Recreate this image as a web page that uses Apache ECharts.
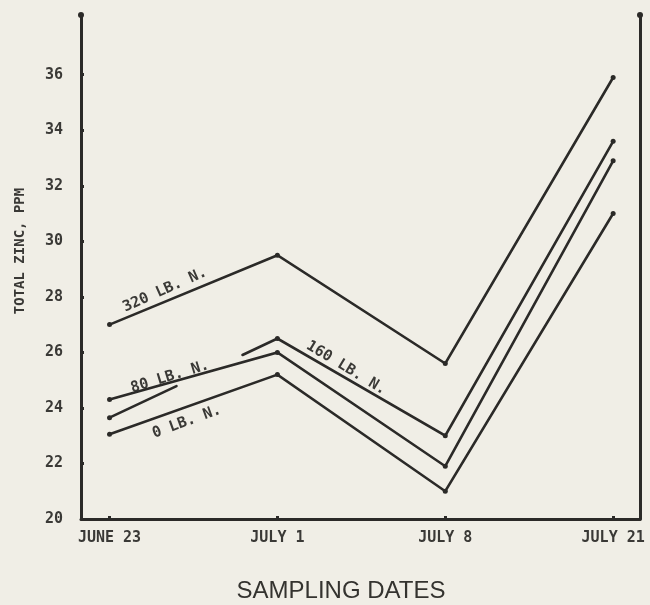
<!DOCTYPE html>
<html>
<head>
<meta charset="utf-8">
<script src="https://cdn.jsdelivr.net/npm/echarts@6/dist/echarts.min.js"></script>
<style>
  html, body { margin: 0; padding: 0; background: #f0eee6; }
  #chart { width: 650px; height: 605px; }
</style>
</head>
<body>
<div id="chart"></div>
<script>
// Sampling dates (category labels) and y-axis tick labels
const dates = ['JUNE 23', 'JULY 1', 'JULY 8', 'JULY 21'];
const yTicks = [20, 22, 24, 26, 28, 30, 32, 34, 36];

// Total zinc (ppm) for each nitrogen rate
const zinc320 = [27.0, 29.5, 25.6, 35.9];
const zinc160 = [23.65, 26.5, 23.0, 33.6];
const zinc80 = [24.3, 26.0, 21.9, 32.9];
const zinc0 = [23.05, 25.2, 21.0, 31.0];

const rateNames = ['320 LB. N.', '160 LB. N.', '80 LB. N.', '0 LB. N.'];

const INK = '#2b2a28';
const TEXT = '#3a3936';
const MONO = '"DejaVu Sans Mono", monospace';
const LABEL_FONT = 'bold 15px ' + MONO;
const dateIdx = dates.map((d, i) => i);

function pairs(vals) { return vals.map((v, i) => [i, v]); }

function lineSeries(name, vals, extraStyle) {
  return {
    name: name,
    type: 'line',
    data: pairs(vals),
    symbol: 'circle',
    symbolSize: 5,
    showSymbol: true,
    itemStyle: { color: INK },
    lineStyle: Object.assign({ color: INK, width: 2.6, cap: 'round', join: 'miter' }, extraStyle || {}),
    emphasis: { disabled: true },
    silent: true
  };
}

const chart = echarts.init(document.getElementById('chart'), null, { renderer: 'canvas' });

const axisLineStyle = { color: INK, width: 3 };
const tickText = { color: TEXT, fontFamily: MONO, fontWeight: 'bold', fontSize: 15 };

chart.setOption({
  animation: false,
  backgroundColor: '#f0eee6',
  grid: { left: 81, right: 10, top: 15, bottom: 86, containLabel: false },
  xAxis: {
    type: 'value',
    min: -0.17,
    max: 3.16,
    splitLine: { show: false },
    axisLine: { show: true, onZero: false, lineStyle: axisLineStyle },
    axisTick: { show: true, inside: true, length: 3, customValues: dateIdx, lineStyle: { color: INK, width: 3 } },
    axisLabel: Object.assign({
      customValues: dateIdx,
      formatter: v => dates[Math.round(v)],
      margin: 12
    }, tickText)
  },
  yAxis: [
    {
      type: 'value',
      min: 20,
      max: 38.15,
      position: 'left',
      splitLine: { show: false },
      axisLine: { show: true, onZero: false, lineStyle: axisLineStyle, symbol: ['none', 'circle'], symbolSize: [6, 6] },
      axisTick: { show: true, inside: true, length: 3, customValues: yTicks, lineStyle: { color: INK, width: 3 } },
      axisLabel: Object.assign({
        customValues: yTicks,
        margin: 18
      }, tickText)
    },
    {
      type: 'value',
      min: 20,
      max: 38.15,
      position: 'right',
      splitLine: { show: false },
      axisLine: { show: true, onZero: false, lineStyle: axisLineStyle, symbol: ['none', 'circle'], symbolSize: [6, 6] },
      axisTick: { show: false },
      axisLabel: { show: false }
    }
  ],
  series: [
    lineSeries(rateNames[0], zinc320),
    // the 160 lb line is broken where it passes the 80 lb line and its label
    lineSeries(rateNames[1], zinc160, { type: [74, 73, 3000, 0] }),
    lineSeries(rateNames[2], zinc80),
    lineSeries(rateNames[3], zinc0)
  ]
});

// Rate labels written along the lines, anchored in data space
const rateLabels = [
  { text: rateNames[0], at: [0.33, 28.25], angle: 24 },
  { text: rateNames[1], at: [1.41, 25.44], angle: -31 },
  { text: rateNames[2], at: [0.36, 25.12], angle: 17 },
  { text: rateNames[3], at: [0.46, 23.50], angle: 20 }
];

const graphics = rateLabels.map(l => {
  const p = chart.convertToPixel({ gridIndex: 0 }, l.at);
  return {
    type: 'text',
    x: p[0],
    y: p[1],
    rotation: l.angle * Math.PI / 180,
    silent: true,
    style: {
      text: l.text,
      font: LABEL_FONT,
      fill: TEXT,
      align: 'center',
      verticalAlign: 'middle'
    }
  };
});

graphics.push({
  type: 'text',
  x: 20,
  y: 251,
  rotation: Math.PI / 2,
  silent: true,
  style: {
    text: 'TOTAL ZINC, PPM',
    font: 'bold 14px ' + MONO,
    fill: TEXT,
    align: 'center',
    verticalAlign: 'middle'
  }
});

graphics.push({
  type: 'text',
  x: 341,
  y: 591,
  silent: true,
  style: {
    text: 'SAMPLING DATES',
    font: '24px "Liberation Sans", Arial, sans-serif',
    fill: '#34332f',
    align: 'center',
    verticalAlign: 'middle'
  }
});

chart.setOption({ graphic: graphics });
</script>
</body>
</html>
